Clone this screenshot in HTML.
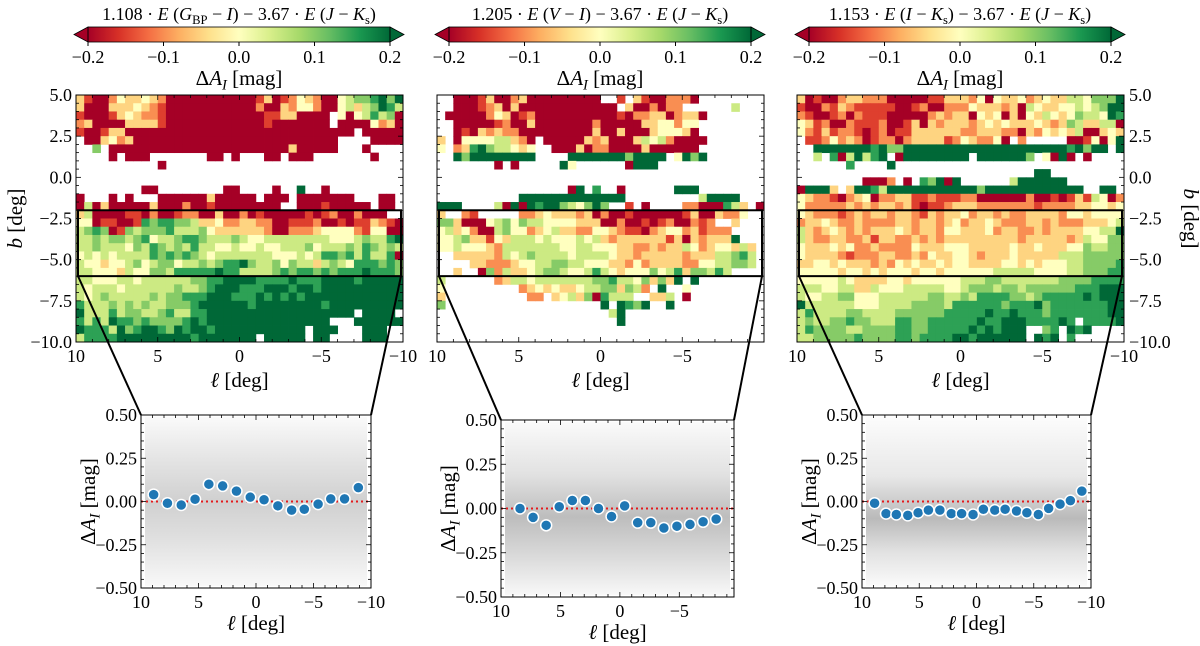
<!DOCTYPE html>
<html><head><meta charset="utf-8">
<style>
body{margin:0;background:#fff;}
svg{display:block;font-family:"Liberation Serif",serif;}
</style></head>
<body>
<svg id="fig" width="1200" height="646" viewBox="0 0 1200 646" xmlns="http://www.w3.org/2000/svg">
<defs>
<linearGradient id="rdylgn" x1="0" x2="1" y1="0" y2="0">
<stop offset="0" stop-color="#a50026"/><stop offset="0.1" stop-color="#d73027"/><stop offset="0.2" stop-color="#f46d43"/><stop offset="0.3" stop-color="#fdae61"/><stop offset="0.4" stop-color="#fee08b"/><stop offset="0.5" stop-color="#ffffbf"/><stop offset="0.6" stop-color="#d9ef8b"/><stop offset="0.7" stop-color="#a6d96a"/><stop offset="0.8" stop-color="#66bd63"/><stop offset="0.9" stop-color="#1a9850"/><stop offset="1" stop-color="#006837"/>
</linearGradient>
<linearGradient id="cloudA" x1="0" x2="0" y1="0" y2="1">
<stop offset="0" stop-color="#fafafa"/><stop offset="0.3" stop-color="#e0e0e0"/><stop offset="0.5" stop-color="#d0d0d0"/><stop offset="0.7" stop-color="#dedede"/><stop offset="1" stop-color="#f8f8f8"/>
</linearGradient>
<linearGradient id="cloudB" x1="0" x2="0" y1="0" y2="1">
<stop offset="0" stop-color="#fafafa"/><stop offset="0.3" stop-color="#e2e2e2"/><stop offset="0.55" stop-color="#bdbdbd"/><stop offset="0.8" stop-color="#dddddd"/><stop offset="1" stop-color="#f8f8f8"/>
</linearGradient>
<linearGradient id="cloudC" x1="0" x2="0" y1="0" y2="1">
<stop offset="0" stop-color="#fcfcfc"/><stop offset="0.35" stop-color="#e8e8e8"/><stop offset="0.6" stop-color="#bababa"/><stop offset="0.8" stop-color="#e2e2e2"/><stop offset="1" stop-color="#fafafa"/>
</linearGradient>
</defs>
</svg>
<script>
const P1 = [
"3100243343200000000000130124320045667868",
"3000333432100000000000200324420045356875",
"1000134322100000000000011330000.40457560",
"2300003333100000000000010000000.00004230",
"1001330000000000000000000000000000.00000",
".0034230000000000000000000000000....0000",
"..6.0000000000000000000000300000...0....",
"....0.000.......00.0...00.000.......0...",
"..........0.............................",
"........................................",
"........................................",
"........00........00....0..8..0.........",
"0...0.0...000000300000.000.0000000...00.",
"0503000003000200100000000..000100000.00.",
"35000011020012200300201000001012002000..",
"4401100176776653342233220011120010113210",
"5676016566675556433333320022234444214400",
"5565665674556776555654455555555444565578",
"5565554657656575544544544555645556576565",
"4545455557676765455555554445457767575570",
"5443445645664556567786556465535654777676",
"5544435446657777787755556767767677787776",
"5544455455555566778888777787778888788888",
"5455545555556556788877788878878888888888",
"5456555556566777888777878787888888888888",
"7555656565566678888887888888887888888888",
"8555756655675577888888888888888888.8888.",
"7575877676666787888888888888888...888888",
"8777586788768788788888888888.888...888..",
"5777788888888878888888.88888.88....888.."];
const P2 = [
"..000130023000000000..1.31002220........",
"..00012303000000000000.3002022......5...",
".00000243012000000000010223302330.......",
"..000001200300000002000003344244........",
"..010323220000000003003000344430........",
"3.0444455320.00000323000354520000.......",
"4.2378655434..000302200003000000........",
"..8688888888....888888868888.4868.......",
".......0.0.....84......0888.............",
"........................................",
"........................................",
"................08.7..0......888........",
"..........8888888888888.........58888...",
"888....50808788654686..1.0....22000753.0",
"3..21.....2234333230200100000013003224..",
"6630004564655444433300200101200212..3...",
"453420056442345332244321102344231222....",
"4456331435554544454532333333130323338...",
"445444325555555445544433223233542344353.",
"..3333325456555545555433233333233355675.",
"....33222344556655444332423333224455665.",
"..3..0625334566544575434446457366575....",
"5......23554555555566755463638.8........",
"4.........2343433455663652.8..4.........",
"3..........22.3453607555..335.0.........",
"6...................8.8768..8...........",
".....................58.................",
"......................8.................",
"........................................",
"........................................"];
const P3 = [
"3010023322200000113332404334234335546668",
"1002132111110012002224333230543344545688",
"2100120211100000232330434030435434655487",
"4312002111200130323332343433343236533550",
"4213122101201133333322333220324343500343",
".1124232012202333312432240.2.....0014048",
"..888888878668888888888888888888878688.8",
"..5.7058578.088888888.8888886.4080.0....",
"......7....8............................",
".............................88.........",
"........0002.0.76808......5888888.......",
"08883.38875888888888886888888888888..88.",
"4322102340223311211122000000200101315402",
"4222223232332310112333222222212222334434",
"4322212323323321323342332322333324434444",
"2334322322223323323423343222332322233345",
"5323432323334323324433342332232333344558",
"5322332231332232323333333332333332354466",
"4333434223222243334443333343343334465566",
"4333321222332232433443233343333355566666",
"3344343332324343343443333443434445566667",
"4444434434344434434444445555544445566677",
"4444454333344344444455566555555566667777",
"5554455335444555554456665665666666777888",
"5445566444555555665565777766567777787888",
"8555555444555566665777777677786777777788",
"5755556655556666667777787787776777777788",
"5655667665557766777777877888777787.77778",
"5766665566667766777778787888..67.878....",
"5566666766667767777887888888.878.7......"];

const L1 = [8.9,7.7,6.5,5.3,4.1,2.9,1.7,0.5,-0.7,-1.9,-3.1,-4.2,-5.4,-6.5,-7.7,-8.9];
const V1 = [0.04,-0.01,-0.02,0.013,0.10,0.09,0.06,0.025,0.01,-0.025,-0.05,-0.045,-0.015,0.015,0.015,0.08];
const L2 = [8.4,7.3,6.2,5.1,4.0,2.9,1.8,0.7,-0.4,-1.5,-2.6,-3.7,-4.8,-5.9,-7.0,-8.1];
const V2 = [0,-0.05,-0.095,0.01,0.045,0.045,0,-0.045,0.015,-0.08,-0.08,-0.11,-0.10,-0.09,-0.075,-0.06];
const L3 = [8.9,7.9,7.0,6.0,5.1,4.2,3.2,2.2,1.3,0.3,-0.6,-1.6,-2.5,-3.5,-4.4,-5.4,-6.3,-7.3,-8.2,-9.2];
const V3 = [-0.01,-0.07,-0.075,-0.08,-0.065,-0.05,-0.05,-0.07,-0.07,-0.075,-0.045,-0.05,-0.045,-0.055,-0.065,-0.075,-0.04,-0.015,0.005,0.06];

const cbTicks = [-0.2,-0.1,0.0,0.1,0.2];
const mapYTicks = [5.0,2.5,0.0,-2.5,-5.0,-7.5,-10.0];
const mapXTicks = [10,5,0,-5,-10];
const scYTicks = [0.5,0.25,0,-0.25,-0.5];

const NS = "http://www.w3.org/2000/svg";
const svg = document.getElementById('fig');
const TS = 18, AS = 21;
function el(tag, attrs, parent, text){
  const e = document.createElementNS(NS, tag);
  for (const k in attrs) e.setAttribute(k, attrs[k]);
  if (text !== undefined) e.textContent = text;
  (parent || svg).appendChild(e);
  return e;
}
const stops = ["#a50026","#d73027","#f46d43","#fdae61","#fee08b","#ffffbf","#d9ef8b","#a6d96a","#66bd63","#1a9850","#006837"];
function hex(c){return [parseInt(c.substr(1,2),16),parseInt(c.substr(3,2),16),parseInt(c.substr(5,2),16)];}
function cmap(v){
  let t = (v + 0.2) / 0.4; t = Math.max(0, Math.min(1, t));
  const p = t * 10, i = Math.min(9, Math.floor(p)), f = p - i;
  const a = hex(stops[i]), b = hex(stops[i+1]);
  return "rgb(" + a.map((x,j)=>Math.round(x+(b[j]-x)*f)).join(",") + ")";
}
function minus(v, d){ const s = Math.abs(v).toFixed(d); return (v < 0 ? "\u2212" : "") + s; }

const titles = [
  [["1.108 · ",""],["E","i"],[" (",""],["G","i"],["BP","sub"],[" − ",""],["I","i"],[") − 3.67 · ",""],["E","i"],[" (",""],["J","i"],[" − ",""],["K","i"],["s","sub"],[")",""]],
  [["1.205 · ",""],["E","i"],[" (",""],["V","i"],[" − ",""],["I","i"],[") − 3.67 · ",""],["E","i"],[" (",""],["J","i"],[" − ",""],["K","i"],["s","sub"],[")",""]],
  [["1.153 · ",""],["E","i"],[" (",""],["I","i"],[" − ",""],["K","i"],["s","sub"],[") − 3.67 · ",""],["E","i"],[" (",""],["J","i"],[" − ",""],["K","i"],["s","sub"],[")",""]]
];
function richText(parts, x, y, size, anchor, parent, name){
  const t = el('text', {x:x, y:y, 'font-size':size, 'text-anchor':anchor||'middle', fill:'#000'}, parent);
  
  
  let sub = false;
  parts.forEach(p=>{
    const ts = el('tspan', {}, t, p[0]);
    if (p[1]==='i') ts.setAttribute('font-style','italic');
    if (p[1]==='sub'){ ts.setAttribute('font-size', size*0.7); ts.setAttribute('dy', size*0.22); sub = true; }
    else if (sub){ ts.setAttribute('dy', -size*0.22); sub = false; }
  });
  return t;
}
function dAI(x, y, size, anchor, parent, rot, name){
  const t = el('text', {x:x, y:y, 'font-size':size, 'text-anchor':anchor, fill:'#000'}, parent);
  if (rot) t.setAttribute('transform', 'rotate(' + rot + ' ' + x + ' ' + y + ')');
  
  
  el('tspan', {}, t, 'Δ');
  el('tspan', {'font-style':'italic'}, t, 'A');
  el('tspan', {'font-style':'italic','font-size':size*0.7,dy:size*0.22}, t, 'I');
  el('tspan', {dy:-size*0.22}, t, ' [mag]');
}

const panels = [
  {grid:P1, mx:76, cb:[74,404], sx0:141, sx1:371, sy0:415, sy1:588, lmin:-10, L:L1, V:V1, cloud:'cloudA', left:true},
  {grid:P2, mx:437, cb:[435,765], sx0:501, sx1:734, sy0:420, sy1:597, lmin:-9.6, L:L2, V:V2, cloud:'cloudB', noMinus10:true},
  {grid:P3, mx:797, cb:[795,1125], sx0:862, sx1:1091, sy0:415, sy1:588, lmin:-10, L:L3, V:V3, cloud:'cloudC', right:true}
];
const MW = 327, MY0 = 95, MY1 = 342;

panels.forEach((p, pi)=>{
  const g = el('g', {});
  
  

  const cg = el('g', {}, g);
  
  
  const [c0, c1] = p.cb, tip = 14, cy0 = 27, cy1 = 42, cm = (cy0+cy1)/2;
  const bx0 = c0 + tip, bx1 = c1 - tip;
  el('rect', {x:bx0, y:cy0, width:bx1-bx0, height:cy1-cy0, fill:'url(#rdylgn)'}, cg);
  el('polygon', {points:`${bx0},${cy0} ${c0},${cm} ${bx0},${cy1}`, fill:'#a50026', stroke:'#000','stroke-width':0.8}, cg);
  el('polygon', {points:`${bx1},${cy0} ${c1},${cm} ${bx1},${cy1}`, fill:'#006837', stroke:'#000','stroke-width':0.8}, cg);
  el('rect', {x:bx0, y:cy0, width:bx1-bx0, height:cy1-cy0, fill:'none', stroke:'#000','stroke-width':0.8}, cg);
  const cbx = v => bx0 + (v + 0.2) / 0.4 * (bx1 - bx0);
  cbTicks.forEach(v=>{
    el('line', {x1:cbx(v), x2:cbx(v), y1:cy1, y2:cy1+4, stroke:'#000'}, cg);
    const t = el('text', {x:cbx(v), y:63, 'font-size':TS, 'text-anchor':'middle'}, cg, minus(v,1));
    
    
  });
  richText(titles[pi], (c0+c1)/2, 20, 18, 'middle', cg, 'colorbar-title-' + (pi+1));
  dAI((c0+c1)/2, 85, AS, 'middle', cg, 0, 'colorbar-label');

  const mx0 = p.mx, mx1 = p.mx + MW;
  const xm = l => mx0 + (10 - l) / 20 * MW;
  const ym = b => MY0 + (5 - b) / 15 * (MY1 - MY0);
  const hg = el('g', {}, g);
  
  
  p.grid.forEach((row, ri)=>{
    const b0 = 5 - ri*0.5;
    for (let ci = 0; ci < 40; ci++){
      const ch = row[ci];
      if (ch === undefined || ch === '.') continue;
      const v = -0.2 + 0.05 * parseInt(ch, 10);
      const l0 = 10 - ci*0.5;
      const r = el('rect', {x:xm(l0), y:ym(b0), width:xm(l0-0.5)-xm(l0)+0.4, height:ym(b0-0.5)-ym(b0)+0.4, fill:cmap(v)}, hg);
      
      
    }
  });
  el('rect', {x:mx0, y:MY0, width:MW, height:MY1-MY0, fill:'none', stroke:'#000', 'stroke-width':1}, g);
  for (let b = 5; b >= -10; b -= 0.5){
    el('line', {x1:mx0, x2:mx0+(b%2.5===0?5:3), y1:ym(b), y2:ym(b), stroke:'#000','stroke-width':0.8}, g);
    el('line', {x1:mx1, x2:mx1-(b%2.5===0?5:3), y1:ym(b), y2:ym(b), stroke:'#000','stroke-width':0.8}, g);
  }
  for (let l = 10; l >= -10; l -= 1){
    const big = l % 5 === 0;
    el('line', {x1:xm(l), x2:xm(l), y1:MY1, y2:MY1-(big?5:3), stroke:'#000','stroke-width':0.8}, g);
    el('line', {x1:xm(l), x2:xm(l), y1:MY0, y2:MY0+(big?5:3), stroke:'#000','stroke-width':0.8}, g);
  }
  mapXTicks.forEach(l=>{
    if (p.noMinus10 && l === -10) return;
    const t = el('text', {x:xm(l), y:MY1+20, 'font-size':TS, 'text-anchor':'middle'}, g, minus(l,0));
    
    
  });
  if (p.left || p.right){
    mapYTicks.forEach(b=>{
      const t = el('text', {x:p.left?mx0-4:mx1+5, y:ym(b)+6, 'font-size':TS, 'text-anchor':p.left?'end':'start'}, g, minus(b,1));
      
      
    });
    const bx = p.left ? 22 : 1184, byy = (MY0+MY1)/2;
    const t = el('text', {x:bx, y:byy, 'font-size':AS, 'text-anchor':'middle', transform:`rotate(${p.left?-90:90} ${bx} ${byy})`}, g);
    
    
    el('tspan', {'font-style':'italic'}, t, 'b');
    el('tspan', {}, t, ' [deg]');
  }
  const xt = el('text', {x:(mx0+mx1)/2, y:387, 'font-size':AS, 'text-anchor':'middle'}, g);
  
  
  el('tspan', {'font-style':'italic'}, xt, 'ℓ');
  el('tspan', {}, xt, ' [deg]');

  const box = el('rect', {x:mx0+2, y:ym(-2), width:MW-4, height:ym(-6)-ym(-2), fill:'none', stroke:'#000','stroke-width':2}, g);
  
  
  el('line', {x1:mx0+2, y1:ym(-6), x2:p.sx0, y2:p.sy0, stroke:'#000','stroke-width':2}, g);
  el('line', {x1:mx1-2, y1:ym(-6), x2:p.sx1, y2:p.sy0, stroke:'#000','stroke-width':2}, g);

  const sg = el('g', {}, g);
  
  
  const xs = l => p.sx0 + (10 - l) / (10 - p.lmin) * (p.sx1 - p.sx0);
  const ys = v => p.sy0 + (0.5 - v) / 1.0 * (p.sy1 - p.sy0);
  const cl = el('rect', {x:p.sx0+4, y:p.sy0+2, width:p.sx1-p.sx0-8, height:p.sy1-p.sy0-4, fill:'url(#'+p.cloud+')'}, sg);
  
  
  el('line', {x1:p.sx0, x2:p.sx1, y1:ys(0), y2:ys(0), stroke:'#e41a1c','stroke-width':2,'stroke-dasharray':'2,3'}, sg);
  p.L.forEach((l, i)=>{
    const c = el('circle', {cx:xs(l), cy:ys(p.V[i]), r:5.5, fill:'#1f77b4', stroke:'#fff','stroke-width':1.5}, sg);
    
    
  });
  el('rect', {x:p.sx0, y:p.sy0, width:p.sx1-p.sx0, height:p.sy1-p.sy0, fill:'none', stroke:'#000','stroke-width':1}, sg);
  for (let v = 0.5; v >= -0.5001; v -= 0.05){
    const big = Math.abs(Math.round(v*100) % 25) === 0;
    el('line', {x1:p.sx0, x2:p.sx0+(big?5:3), y1:ys(v), y2:ys(v), stroke:'#000','stroke-width':0.8}, sg);
    el('line', {x1:p.sx1, x2:p.sx1-(big?5:3), y1:ys(v), y2:ys(v), stroke:'#000','stroke-width':0.8}, sg);
  }
  for (let l = 10; l >= p.lmin; l -= 1){
    const big = l % 5 === 0;
    el('line', {x1:xs(l), x2:xs(l), y1:p.sy1, y2:p.sy1-(big?5:3), stroke:'#000','stroke-width':0.8}, sg);
    el('line', {x1:xs(l), x2:xs(l), y1:p.sy0, y2:p.sy0+(big?5:3), stroke:'#000','stroke-width':0.8}, sg);
  }
  scYTicks.forEach(v=>{
    const t = el('text', {x:p.sx0-4, y:ys(v)+6, 'font-size':TS, 'text-anchor':'end'}, sg, minus(v,2));
    
    
  });
  mapXTicks.forEach(l=>{
    if (l < p.lmin) return;
    const t = el('text', {x:xs(l), y:p.sy1+20, 'font-size':TS, 'text-anchor':'middle'}, sg, minus(l,0));
    
    
  });
  const sxt = el('text', {x:(p.sx0+p.sx1)/2, y:p.sy1+42, 'font-size':AS, 'text-anchor':'middle'}, sg);
  
  
  el('tspan', {'font-style':'italic'}, sxt, 'ℓ');
  el('tspan', {}, sxt, ' [deg]');
  dAI(p.sx0-46, (p.sy0+p.sy1)/2, AS, 'middle', sg, -90, 'scatter-y-axis-title');
});
</script>
</body></html>
